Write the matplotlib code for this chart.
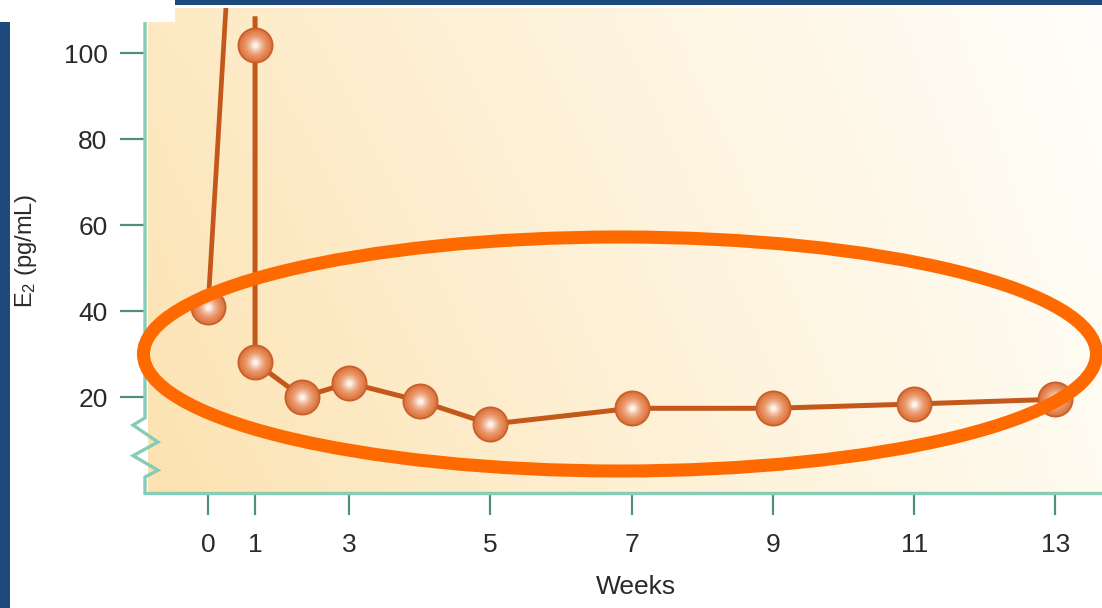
import numpy as np
import matplotlib
matplotlib.use("Agg")
import matplotlib.pyplot as plt
from matplotlib.patches import Rectangle, Ellipse
from matplotlib.lines import Line2D

# ---------------- data ----------------
week_pts = [0, 1, 1, 2, 3, 4, 5, 7, 9, 11, 13]
e2_pts = [40.9, 101.9, 28.1, 20.0, 23.3, 19.1, 13.7, 17.4, 17.4, 18.4, 19.5]
# off-scale surge after week 0 (goes beyond top of axis)
rise_weeks = [0, 0.40]
rise_e2 = [40.9, 114]
# value where the line re-enters at week 1
reentry_e2 = 108
x_ticks = [0, 1, 3, 5, 7, 9, 11, 13]
y_ticks = [20, 40, 60, 80, 100]

# ---------------- figure ----------------
W, H = 1102, 608
fig = plt.figure(figsize=(W / 100, H / 100), dpi=100)
fig.patch.set_facecolor("white")
plt.rcParams["font.family"] = ["Liberation Sans", "DejaVu Sans"]

ax = fig.add_axes([145 / W, 1 - 493 / H, 957 / W, 485 / H])


def fwd(x):
    x = np.asarray(x, dtype=float)
    return np.where(x <= 3, x * 2.0 / 3.0, x - 1.0)


def inv(u):
    u = np.asarray(u, dtype=float)
    return np.where(u <= 2, u * 1.5, u + 1.0)


ax.set_xscale("function", functions=(fwd, inv))

# background gradient
nx, ny = 300, 150
gx = np.linspace(0, 1, nx) ** 0.9
gy = np.linspace(0, 1, ny)[:, None]
c_lb = np.array([252, 226, 176]) / 255
c_lt = np.array([253, 233, 194]) / 255
c_rb = np.array([255, 251, 240]) / 255
c_rt = np.array([255, 254, 250]) / 255
left = c_lb * (1 - gy[..., None]) + c_lt * gy[..., None]
right = c_rb * (1 - gy[..., None]) + c_rt * gy[..., None]
img = left * (1 - gx[None, :, None]) + right * gx[None, :, None]
ax.imshow(img, extent=[0.003, 1, 0, 1], transform=ax.transAxes, origin="lower",
          aspect="auto", zorder=0, interpolation="bilinear")

line_c = "#c4571a"
ax.plot(rise_weeks, rise_e2, color=line_c, lw=3.4, solid_capstyle="butt", zorder=3)
ax.plot([week_pts[1]] + week_pts[1:], [reentry_e2] + e2_pts[1:], color=line_c, lw=3.6,
        solid_joinstyle="round", zorder=3)

# spherical markers: layered radial shading
ax.plot(week_pts, e2_pts, ls="none", marker="o", ms=24.5, mfc="#df7a44", mec="#c8602c",
        mew=1.4, zorder=4)
edge_rgb = np.array([0xe4, 0x82, 0x4e]) / 255
core_rgb = np.array([0xff, 0xf2, 0xea]) / 255
n_layers = 10
for i in range(n_layers):
    t = (i + 1) / n_layers
    col = edge_rgb * (1 - t) + core_rgb * t ** 1.6
    col = np.clip(edge_rgb + (core_rgb - edge_rgb) * t ** 1.6, 0, 1)
    ms = 21.5 * (1 - t) + 3.5 * t
    ax.plot(week_pts, e2_pts, ls="none", marker="o", ms=ms, mfc=col, mec="none",
            zorder=5 + i * 0.01)

ax.set_xlim(-1.338, 13.66)
ax.set_ylim(-2.3, 110.5)

spine_c = "#85cdb5"
tick_c = "#4f8f80"
for s in ["top", "right", "left"]:
    ax.spines[s].set_visible(False)
ax.spines["bottom"].set_color(spine_c)
ax.spines["bottom"].set_linewidth(2.4)

# left spine with zig-zag break
zx = [0, 0, -0.0125, 0.0136, -0.0125, 0.0136, 0, 0]
zy = [1.0, 0.155, 0.140, 0.105, 0.077, 0.047, 0.033, 0.0]
ax.add_line(Line2D(zx, zy, transform=ax.transAxes, color=spine_c, lw=2.4,
                   clip_on=False, zorder=5, solid_joinstyle="miter"))

ax.set_xticks(x_ticks)
ax.set_xticklabels([str(v) for v in x_ticks])
ax.set_yticks(y_ticks)
ax.set_yticklabels([str(v) for v in y_ticks])
ax.tick_params(axis="y", length=18, width=1.6, color=tick_c, pad=9,
               labelsize=19, labelcolor="#2a2a2a")
ax.tick_params(axis="x", length=16, width=1.6, color=tick_c, pad=13,
               labelsize=19, labelcolor="#2a2a2a")
ax.minorticks_off()

fig.text(636 / W, 1 - 587 / H, "Weeks", ha="center", va="center", fontsize=19,
         color="#2a2a2a")
fig.text(26 / W, 1 - 251 / H, r"$\mathregular{E_2}$ (pg/mL)", ha="center", va="center",
         rotation=90, fontsize=17, color="#2a2a2a")

# highlight ellipse overlay
ell = Ellipse((620 / W, 1 - 354 / H), 953 / W, 234 / H, transform=fig.transFigure,
              fill=False, edgecolor="#ff6a00", lw=9.4, zorder=20)
fig.add_artist(ell)

# frame pieces
blue = "#1e497c"
fig.add_artist(Rectangle((0, 1 - 22 / H), 175 / W, 22 / H, transform=fig.transFigure,
                         facecolor="white", edgecolor="none", zorder=30))
fig.add_artist(Rectangle((0, 0), 10 / W, 1 - 22 / H, transform=fig.transFigure,
                         facecolor=blue, edgecolor="none", zorder=31))
fig.add_artist(Rectangle((175 / W, 1 - 5 / H), 1 - 175 / W, 5 / H, transform=fig.transFigure,
                         facecolor=blue, edgecolor="none", zorder=31))

fig.savefig("out.png", dpi=100)
